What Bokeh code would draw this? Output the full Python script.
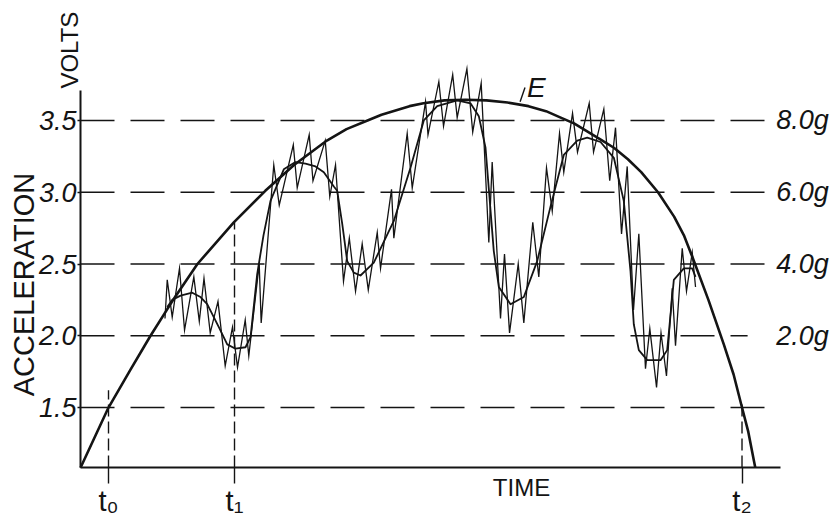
import math
from bokeh.plotting import figure
from bokeh.models import Range1d, LinearAxis, FixedTicker, Label
from bokeh.core.properties import value
from bokeh.embed import file_html
from bokeh.resources import INLINE

# ---------------- data ----------------
volt_ticks = [1.5, 2.0, 2.5, 3.0, 3.5]
volt_labels = ["1.5", "2.0", "2.5", "3.0", "3.5"]

g_levels = [3.5, 3.0, 2.5, 2.0]
g_labels = ["8.0g", "6.0g", "4.0g", "2.0g"]

time_ticks = [4.0, 22.0, 94.5]
time_labels = ["t₀", "t₁", "t₂"]

# envelope curve E
envelope_t = [0, 4, 7.1, 10, 13.1, 16.7, 21.9, 26.4, 30.5, 35.2, 38, 41, 43, 45, 47, 49,
              52, 55, 58, 61, 64, 66.5, 68.6, 70.5, 72.2, 74.2, 76.2, 78.2, 80.1, 82.5,
              84.8, 86.2, 87.4, 89.7, 91.9, 93.3, 94.5, 95.4, 96.2, 96.4]
envelope_v = [1.08, 1.5, 1.76, 2.0, 2.24, 2.5, 2.79, 3.01, 3.19, 3.36, 3.44, 3.5, 3.54, 3.57,
              3.60, 3.62, 3.64, 3.645, 3.64, 3.625, 3.60, 3.565, 3.52, 3.48, 3.43, 3.37, 3.31,
              3.23, 3.14, 3.0, 2.83, 2.70, 2.55, 2.25, 1.94, 1.73, 1.5, 1.33, 1.13, 1.08]

# raw (zig-zag) acceleration signal
raw_t = [12.07, 12.39, 13.1, 14.14, 14.86, 16.19, 16.97, 17.64, 18.53, 19.64, 20.67, 21.71,
         22.43, 23.53, 24.04, 25.53, 25.81, 27.61, 28.39, 30.4, 30.96, 32.67, 33.21, 34.96,
         35.61, 36.43, 37.57, 38.4, 39.29, 40.24, 41.11, 42.39, 42.86, 44.43, 44.76, 46.67,
         47.39, 49.29, 49.64, 51.19, 51.86, 53.17, 53.81, 55.2, 56.03, 57.24, 58.33, 58.81,
         60.0, 60.57, 61.29, 62.53, 63.33, 64.61, 65.47, 66.57, 67.39, 68.43, 69.04, 70.29,
         71.0, 72.67, 73.29, 74.76, 75.6, 76.43, 77.29, 78.1, 79.0, 79.76, 80.71, 81.33,
         82.29, 82.93, 83.71, 84.53, 85.0, 85.96, 86.57, 87.39, 87.86]
raw_v = [2.12, 2.39, 2.13, 2.47, 2.04, 2.41, 2.10, 2.40, 2.02, 2.24, 1.79, 2.06,
         1.78, 2.11, 1.86, 2.50, 2.09, 3.19, 2.91, 3.33, 3.03, 3.40, 3.08, 3.36,
         2.97, 3.19, 2.38, 2.68, 2.31, 2.64, 2.32, 2.72, 2.47, 3.02, 2.68, 3.41,
         3.03, 3.63, 3.40, 3.77, 3.46, 3.82, 3.52, 3.86, 3.42, 3.76, 2.65, 3.21,
         2.12, 2.57, 2.02, 2.50, 2.09, 2.79, 2.41, 3.17, 2.87, 3.41, 3.14, 3.55,
         3.28, 3.62, 3.28, 3.58, 3.08, 3.45, 2.71, 3.18, 2.18, 2.71, 1.77, 2.05,
         1.64, 2.02, 1.72, 2.33, 1.93, 2.61, 2.31, 2.58, 2.34]

# smoothed (mean) acceleration signal
mean_t = [12.39, 13.1, 14.29, 15.96, 17.14, 18.1, 19.76, 20.96, 22.14, 23.57, 24.29, 25.24,
          26.14, 27.14, 29.04, 30.71, 32.14, 33.57, 34.76, 36.19, 36.67, 37.39, 38.1, 39.04,
          40.0, 41.9, 44.76, 47.14, 49.04, 50.96, 53.81, 55.71, 56.9, 57.86, 59.04, 59.76,
          61.43, 63.33, 65.24, 67.14, 69.04, 70.96, 72.39, 74.29, 76.19, 77.61, 78.57, 79.04,
          79.76, 80.96, 82.86, 83.81, 84.76, 86.19, 87.39, 87.86]
mean_v = [2.20, 2.25, 2.28, 2.30, 2.27, 2.22, 2.06, 1.94, 1.91, 1.92, 1.99, 2.43,
          2.70, 2.94, 3.16, 3.21, 3.20, 3.18, 3.14, 3.04, 3.01, 2.78, 2.52, 2.44,
          2.42, 2.51, 2.80, 3.17, 3.50, 3.60, 3.64, 3.62, 3.53, 3.31, 2.59, 2.34,
          2.22, 2.27, 2.52, 2.90, 3.26, 3.36, 3.38, 3.35, 3.24, 2.94, 2.45, 2.08,
          1.90, 1.83, 1.83, 1.90, 2.39, 2.47, 2.47, 2.41]

# ---------------- layout / style ----------------
INK = "#141414"
FONT = "Liberation Sans"
X_LO, X_HI = -11.43, 108.57          # whole canvas in data units (7 px per time unit)
Y_LO, Y_HI = 0.692, 4.336            # whole canvas in data units (143.5 px per volt)
AXIS_Y = 1.082                        # where the time axis sits
AXIS_TOP = 3.71
AXIS_END = 100
hline_ends = [99.7, 95.3, 99.0, 99.1, 99.1]      # end of each dashed level line
tline_tops = [1.62, 2.79, 1.53]                  # top of each dashed time marker

p = figure(width=840, height=523, output_backend="svg", toolbar_location=None,
           x_range=Range1d(X_LO, X_HI), y_range=Range1d(Y_LO, Y_HI),
           x_axis_type=None, y_axis_type=None, min_border=0)
p.outline_line_color = None
p.background_fill_color = "white"
p.border_fill_color = "white"

yax = LinearAxis(ticker=FixedTicker(ticks=volt_ticks, minor_ticks=[]),
                 major_label_overrides=dict(zip(volt_ticks, volt_labels)),
                 bounds=(AXIS_Y, AXIS_TOP), fixed_location=0)
yax.axis_line_width = 2
yax.axis_line_color = INK
yax.major_tick_in = 0
yax.major_tick_out = 3
yax.major_tick_line_color = INK
yax.major_tick_line_width = 1.5
yax.minor_tick_line_color = None
yax.major_label_standoff = 1
yax.major_label_text_font = FONT
yax.major_label_text_font_size = "27px"
yax.major_label_text_font_style = "italic"
yax.major_label_text_color = INK
p.add_layout(yax, "left")

xax = LinearAxis(ticker=FixedTicker(ticks=time_ticks, minor_ticks=[]),
                 major_label_overrides=dict(zip(time_ticks, time_labels)),
                 bounds=(0, AXIS_END), fixed_location=AXIS_Y)
xax.axis_line_width = 2
xax.axis_line_color = INK
xax.major_tick_in = 0
xax.major_tick_out = 16
xax.major_tick_line_color = INK
xax.major_tick_line_width = 1.4
xax.minor_tick_line_color = None
xax.major_label_standoff = 1
xax.major_label_text_font = FONT
xax.major_label_text_font_size = "29px"
xax.major_label_text_color = INK
p.add_layout(xax, "below")

# dashed level lines
p.segment(x0=[0] * len(volt_ticks), y0=volt_ticks, x1=hline_ends, y1=volt_ticks,
          line_color=INK, line_width=1.6, line_dash="34 16")

# dashed time markers
p.segment(x0=time_ticks, y0=[AXIS_Y] * len(time_ticks), x1=time_ticks, y1=tline_tops,
          line_color=INK, line_width=1.4, line_dash="12 5")

# curves
p.line(envelope_t, envelope_v, line_color=INK, line_width=2.6, line_join="round")
p.line(mean_t, mean_v, line_color=INK, line_width=1.8, line_join="round")
p.line(raw_t, raw_v, line_color=INK, line_width=1.3, line_join="miter")

# "E" label with leader
p.segment(x0=[62.8], y0=[3.63], x1=[63.5], y1=[3.73], line_color=INK, line_width=1.4)
p.text(x=[63.8], y=[3.73], text=["E"], text_font=value(FONT), text_font_size="28px",
       text_font_style="italic", text_color=INK, text_baseline="alphabetic")

# right-hand g labels
p.text(x=[99.4] * len(g_levels), y=g_levels, text=g_labels, text_font=value(FONT),
       text_font_size="27px", text_font_style="italic", text_color=INK,
       text_align="left", text_baseline="middle")

# axis titles
p.add_layout(Label(x=-8.14, y=2.357, text="ACCELERATION", angle=math.pi / 2,
                   text_align="center", text_baseline="middle", text_font=FONT,
                   text_font_size="29px", text_color=INK))
p.add_layout(Label(x=-1.6, y=3.99, text="VOLTS", angle=math.pi / 2,
                   text_align="center", text_baseline="middle", text_font=FONT,
                   text_font_size="24px", text_color=INK))
p.add_layout(Label(x=63.0, y=0.94, text="TIME", text_align="center",
                   text_baseline="middle", text_font=FONT,
                   text_font_size="24px", text_color=INK))

open("out.html", "w").write(file_html(p, INLINE))
